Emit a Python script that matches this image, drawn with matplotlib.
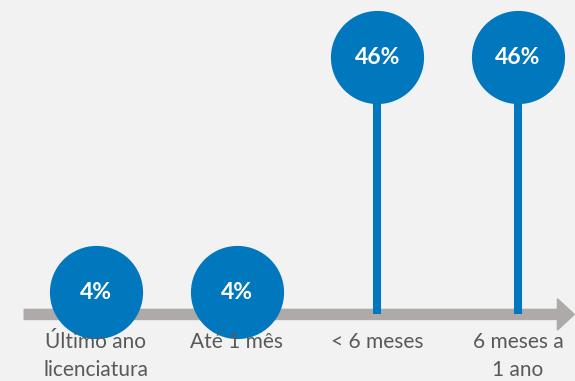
import matplotlib.pyplot as plt
import numpy as np

categories = ["Último ano\nlicenciatura", "Até 1 mês", "< 6 meses", "6 meses a\n1 ano"]
values = [4, 4, 46, 46]
value_labels = ["4%", "4%", "46%", "46%"]

BLUE = "#0177bd"
GREY_AXIS = "#aeaaaa"
TEXT_GREY = "#595959"
BG = "#f2f2f2"

fig = plt.figure(figsize=(5.75, 3.81), dpi=100, facecolor=BG)
ax = fig.add_axes([0, 0, 1, 1])
ax.set_facecolor(BG)

x = np.arange(len(categories))
ax.set_xlim(-0.682, 3.405)
ax.set_ylim(-11.9, 56.2)

# arrow axis
ax.arrow(-0.51, 0, 3.91, 0, width=1.8, head_width=5.6, head_length=0.12,
         length_includes_head=True, color=GREY_AXIS, zorder=1)

# stems + circles
ax.vlines(x, 0, values, color=BLUE, linewidth=5.8, zorder=2)
ax.scatter(x, values, s=4500, color=BLUE, zorder=3, linewidths=0)

for xi, v, lab in zip(x, values, value_labels):
    ax.text(xi, v, lab, ha="center", va="center", color="white",
            fontsize=16.5, fontweight="bold", family="Lato", zorder=4)

for xi, cat in zip(x, categories):
    ax.annotate(cat, (xi, 0), xytext=(0, -13), textcoords="offset points",
                ha="center", va="top", color=TEXT_GREY, fontsize=15,
                family="Lato", linespacing=1.45, zorder=4)

ax.axis("off")
fig.savefig("out.png", dpi=100, facecolor=BG)
